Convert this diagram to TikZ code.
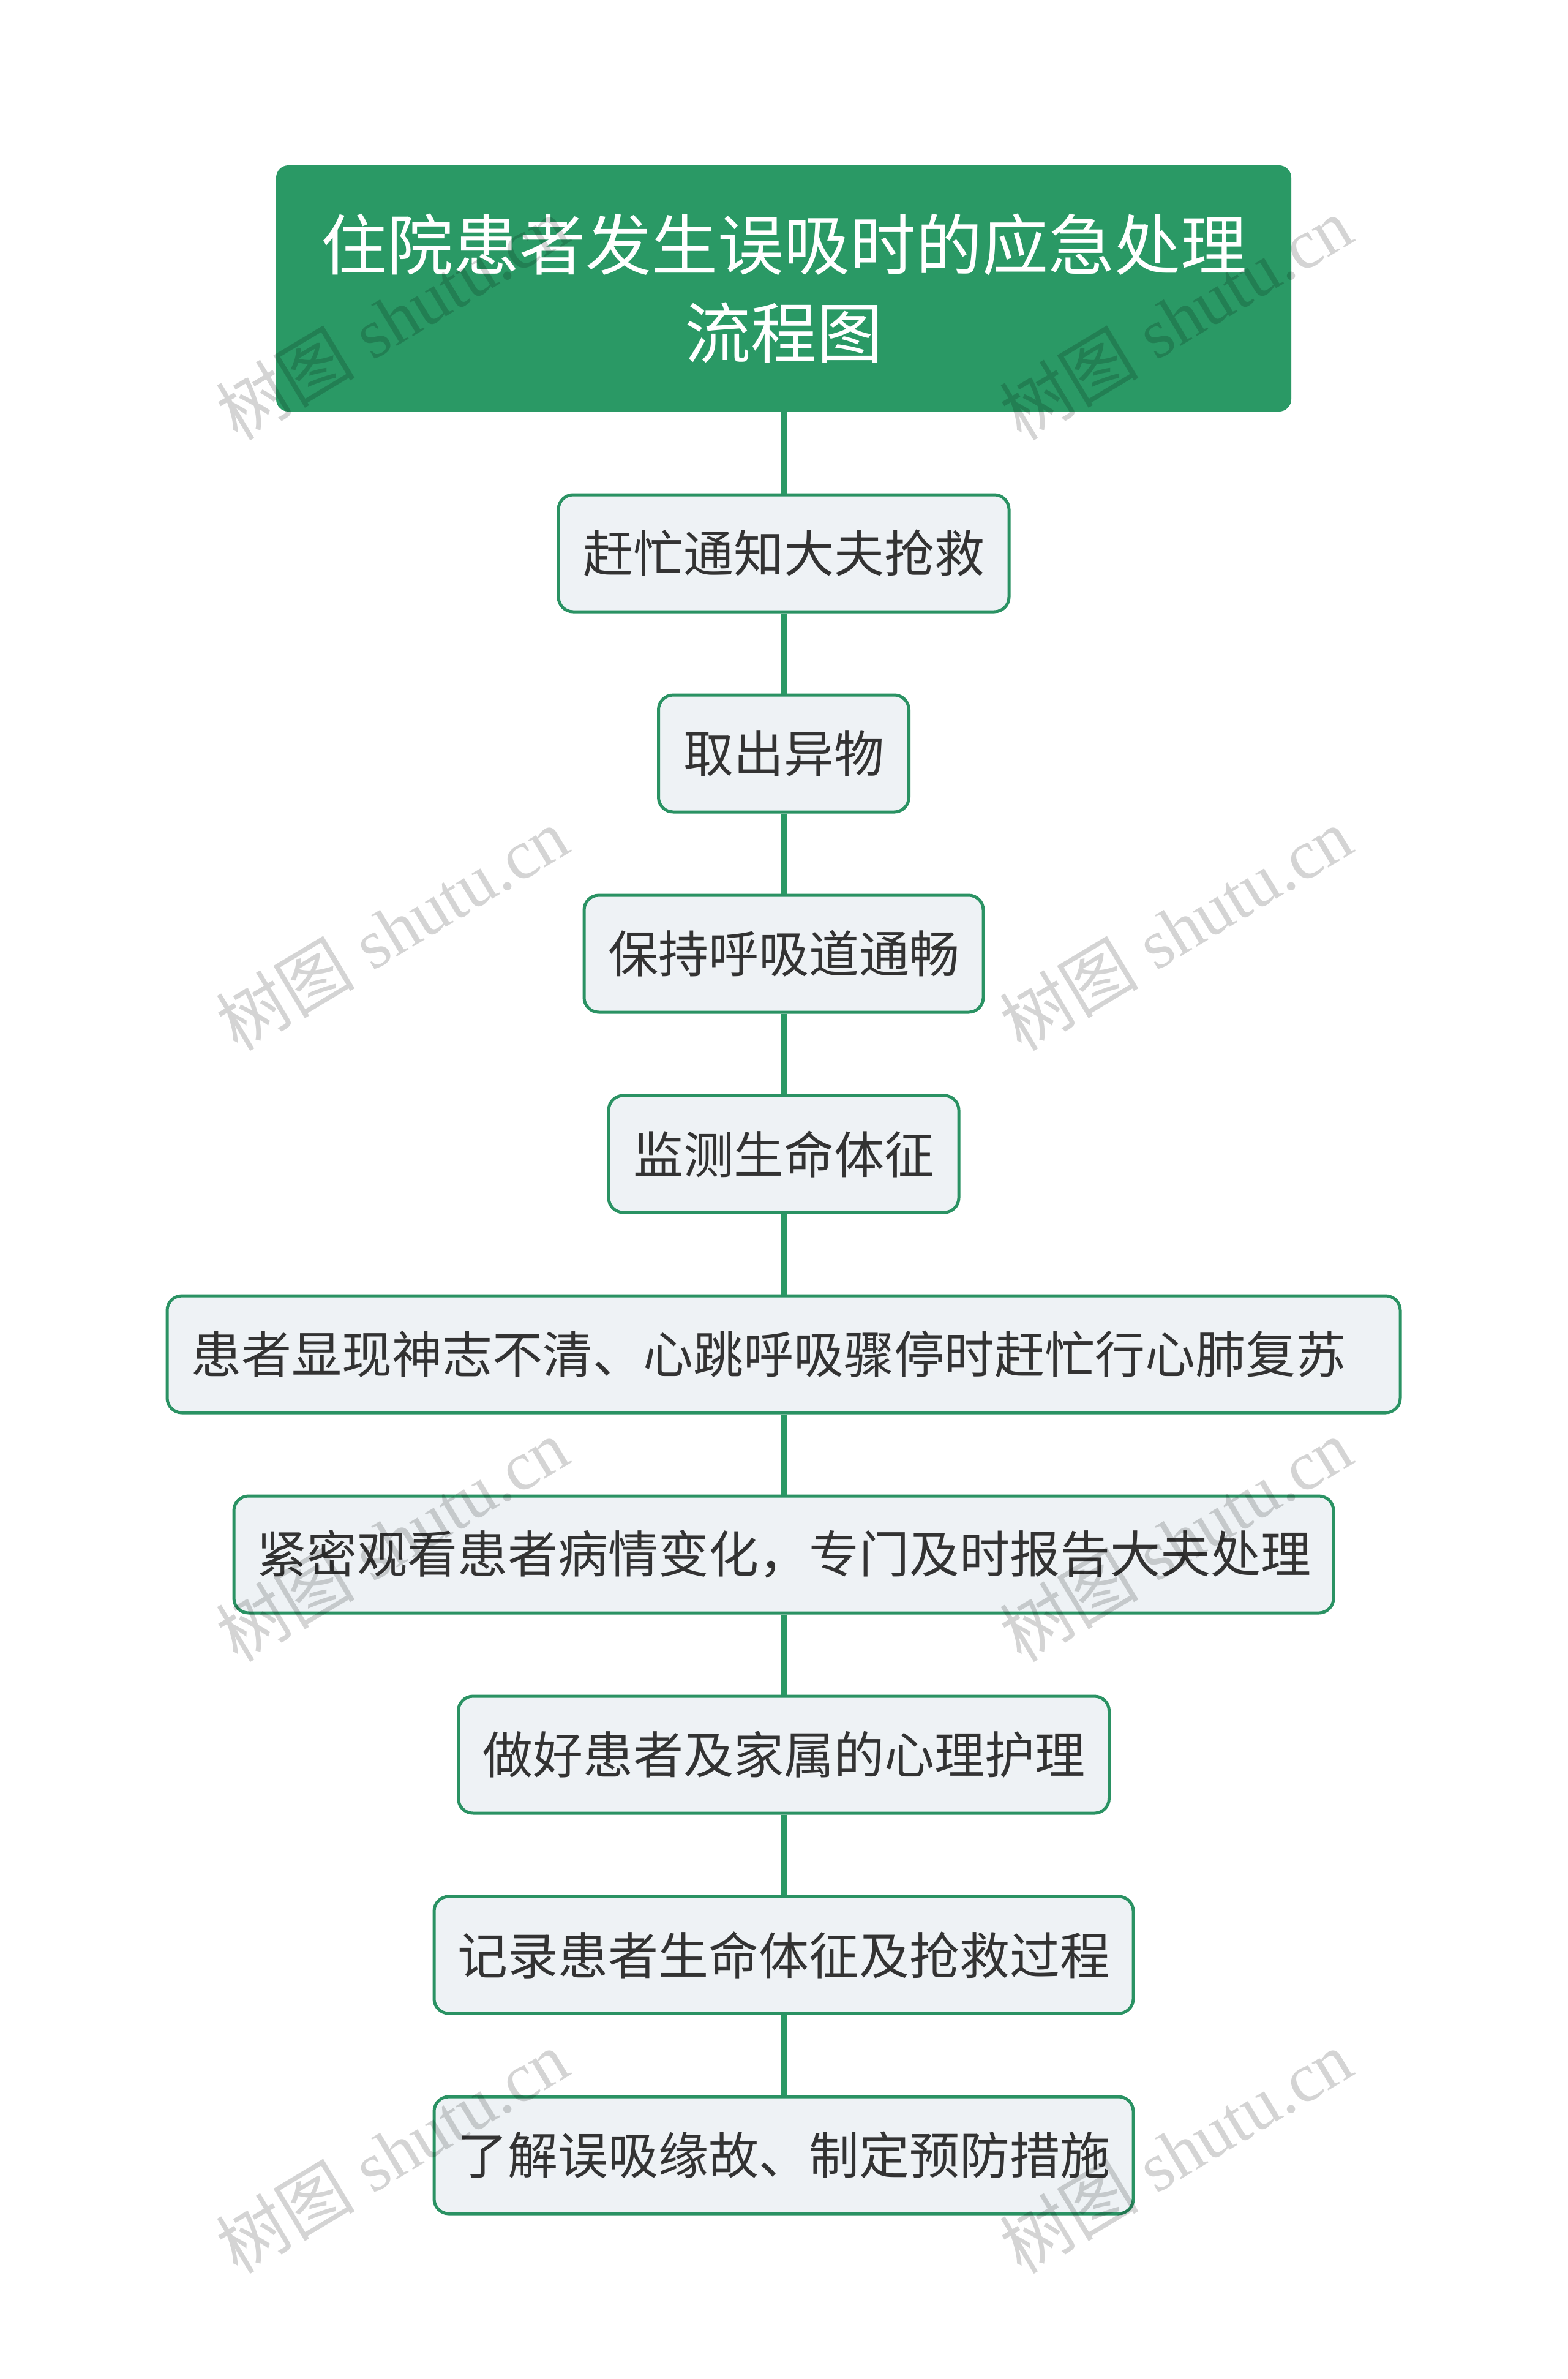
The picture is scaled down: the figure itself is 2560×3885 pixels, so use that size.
\documentclass[tikz,border=0pt]{standalone}
\usepackage{fontspec}
\setmainfont{Liberation Serif}
\newfontfamily\cjk{Noto Sans CJK SC}
\definecolor{titlegreen}{HTML}{2A9965}
\definecolor{edgegreen}{HTML}{2A9263}
\definecolor{boxfill}{HTML}{EEF2F5}
\definecolor{txt}{HTML}{333333}
\tikzset{
  titlebox/.style={draw=none, fill=titlegreen, rounded corners=5pt, text=white, align=center,
    font=\cjk\fontsize{27}{36}\selectfont, minimum width=414.5pt, minimum height=100.5pt, inner sep=0pt},
  stepbox/.style={draw=edgegreen, line width=1.25pt, fill=boxfill, rounded corners=6pt, text=txt,
    font=\cjk\fontsize{20.5}{24}\selectfont, minimum height=47.75pt, inner sep=0pt},
  link/.style={draw=titlegreen, line width=2.5pt},
  wm/.style={text=black, text opacity=0.17, rotate=31, font=\fontsize{28.5}{30}\selectfont, inner sep=0pt}
}
\begin{document}
\begin{tikzpicture}[x=0.25pt,y=-0.25pt]
\useasboundingbox (0,0) rectangle (2560,3885);
\fill[white] (0,0) rectangle (2560,3885);
\node[titlebox] (t) at (1280,471) {住院患者发生误吸时的应急处理\\流程图};
\node[stepbox, minimum width=184pt] (b1) at (1280,903.5) {赶忙通知大夫抢救};
\node[stepbox, minimum width=102.25pt] (b2) at (1280,1230.5) {取出异物};
\node[stepbox, minimum width=163pt] (b3) at (1280,1557.5) {保持呼吸道通畅};
\node[stepbox, minimum width=143pt] (b4) at (1280,1884.5) {监测生命体征};
\node[stepbox, minimum width=503.5pt] (b5) at (1280,2211.5) {患者显现神志不清、心跳呼吸骤停时赶忙行心肺复苏\hspace*{12.5pt}};
\node[stepbox, minimum width=449pt] (b6) at (1280,2538.5) {紧密观看患者病情变化，专门及时报告大夫处理};
\node[stepbox, minimum width=265.75pt] (b7) at (1280,2865.5) {做好患者及家属的心理护理};
\node[stepbox, minimum width=285.5pt] (b8) at (1280,3192.5) {记录患者生命体征及抢救过程};
\node[stepbox, minimum width=285.5pt] (b9) at (1280,3519.5) {了解误吸缘故、制定预防措施};
\draw[link] (t.south) -- (b1.north);
\draw[link] (b1.south) -- (b2.north);
\draw[link] (b2.south) -- (b3.north);
\draw[link] (b3.south) -- (b4.north);
\draw[link] (b4.south) -- (b5.north);
\draw[link] (b5.south) -- (b6.north);
\draw[link] (b6.south) -- (b7.north);
\draw[link] (b7.south) -- (b8.north);
\draw[link] (b8.south) -- (b9.north);
\foreach \i/\yy in {1/520,2/1517,3/2515,4/3514}{
  \node[wm] (wl\i) at (640,\yy) {{\cjk 树图} shutu.cn};
  \node[wm] (wr\i) at (1920,\yy) {{\cjk 树图} shutu.cn};
}
\end{tikzpicture}
\end{document}
